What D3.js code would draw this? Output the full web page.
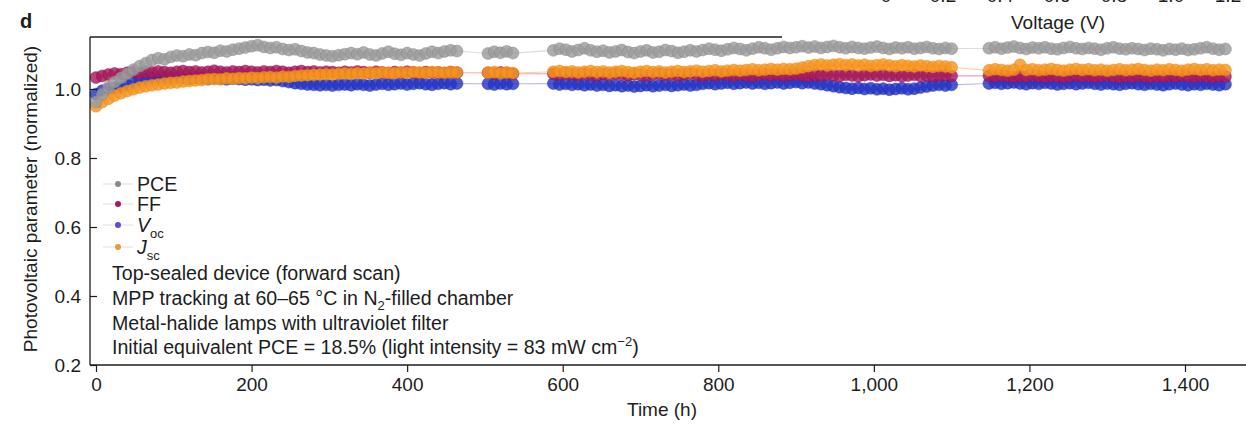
<!DOCTYPE html>
<html>
<head>
<meta charset="utf-8">
<script src="https://cdn.jsdelivr.net/npm/d3@7"></script>
<style>
  html, body { margin: 0; padding: 0; background: #fff; }
  svg { display: block; font-family: "Liberation Sans", Arial, Helvetica, sans-serif; }
</style>
</head>
<body>
<svg id="chart" width="1246" height="428"></svg>
<script>
// Sampling times (h) of the stability run; gaps are interruptions of tracking
const hours = [
  0,8,16,24,32,40,48,56,64,72,80,88,96,104,112,120,128,136,144,152,160,168,176,184,192,200,208,216,224,232,
  240,248,256,264,272,280,288,296,304,312,320,328,336,344,352,360,368,376,384,392,400,408,416,424,432,440,448,456,464,
  504,512,520,528,536,
  588,596,604,612,620,628,636,644,652,660,668,676,684,692,700,708,716,724,732,740,748,756,764,772,780,788,796,804,812,820,
  828,836,844,852,860,868,876,884,892,900,908,916,924,932,940,948,956,964,972,980,988,996,1004,1012,1020,1028,1036,1044,1052,1060,
  1068,1076,1084,1092,1100,
  1148,1156,1164,1172,1180,1188,1196,1204,1212,1220,1228,1236,1244,1252,1260,1268,1276,1284,1292,1300,
  1308,1316,1324,1332,1340,1348,1356,1364,1372,1380,1388,1396,1404,1412,1420,1428,1436,1444,1452
];

// Normalized photovoltaic parameters
const pce = [
  0.962,0.985,1.005,1.020,1.032,1.044,1.056,1.066,1.075,1.084,
  1.089,1.086,1.093,1.097,1.095,1.100,1.098,1.104,1.107,1.105,
  1.111,1.109,1.114,1.117,1.120,1.124,1.127,1.122,1.119,1.121,
  1.116,1.113,1.115,1.110,1.106,1.104,1.100,1.097,1.095,1.098,
  1.101,1.104,1.101,1.106,1.100,1.097,1.103,1.108,1.102,1.099,
  1.104,1.100,1.097,1.103,1.108,1.104,1.109,1.112,1.110,
  1.103,1.108,1.105,1.109,1.104,
  1.112,1.117,1.114,1.109,1.113,1.118,1.112,1.108,1.111,1.106,
  1.109,1.113,1.107,1.104,1.109,1.112,1.106,1.108,1.113,1.110,
  1.105,1.108,1.112,1.109,1.113,1.117,1.114,1.111,1.115,1.119,
  1.116,1.112,1.117,1.121,1.118,1.114,1.118,1.122,1.119,1.121,
  1.124,1.120,1.123,1.119,1.122,1.125,1.121,1.118,1.122,1.119,
  1.117,1.120,1.123,1.119,1.116,1.120,1.118,1.121,1.117,1.119,
  1.122,1.118,1.116,1.119,1.117,
  1.118,1.121,1.117,1.120,1.123,1.119,1.116,1.120,1.118,1.121,
  1.117,1.115,1.119,1.122,1.118,1.116,1.119,1.117,1.114,1.118,
  1.121,1.117,1.115,1.118,1.116,1.113,1.117,1.115,1.112,1.116,
  1.114,1.117,1.113,1.115,1.118,1.121,1.117,1.114,1.116
];

const ff = [
  1.033,1.038,1.042,1.045,1.043,1.047,1.049,1.046,1.050,1.048,
  1.051,1.049,1.047,1.050,1.052,1.049,1.051,1.048,1.050,1.053,
  1.050,1.048,1.051,1.049,1.052,1.050,1.048,1.051,1.049,1.052,
  1.050,1.047,1.050,1.052,1.049,1.051,1.048,1.050,1.049,1.047,
  1.050,1.048,1.051,1.049,1.047,1.050,1.048,1.046,1.049,1.047,
  1.050,1.048,1.046,1.049,1.047,1.048,1.046,1.049,1.047,
  1.047,1.045,1.048,1.046,1.044,
  1.044,1.042,1.045,1.043,1.041,1.044,1.042,1.040,1.043,1.041,
  1.044,1.042,1.040,1.043,1.041,1.039,1.042,1.044,1.041,1.043,
  1.040,1.042,1.044,1.041,1.039,1.042,1.040,1.043,1.041,1.039,
  1.042,1.040,1.038,1.041,1.043,1.040,1.042,1.039,1.041,1.043,
  1.040,1.038,1.041,1.039,1.042,1.040,1.038,1.041,1.039,1.037,
  1.040,1.042,1.039,1.041,1.038,1.040,1.037,1.039,1.041,1.038,
  1.040,1.037,1.039,1.041,1.038,
  1.038,1.036,1.039,1.037,1.035,1.038,1.036,1.039,1.037,1.035,
  1.038,1.036,1.034,1.037,1.039,1.036,1.038,1.035,1.037,1.039,
  1.036,1.034,1.037,1.035,1.038,1.036,1.034,1.037,1.035,1.038,
  1.036,1.039,1.037,1.035,1.038,1.036,1.034,1.037,1.036
];

const voc = [
  0.985,0.995,1.000,1.003,1.006,1.012,1.018,1.024,1.029,1.031,
  1.030,1.032,1.031,1.033,1.032,1.030,1.032,1.031,1.029,1.031,
  1.030,1.028,1.030,1.029,1.027,1.028,1.026,1.027,1.025,1.026,
  1.023,1.020,1.017,1.015,1.013,1.012,1.011,1.012,1.010,1.012,
  1.013,1.011,1.014,1.012,1.010,1.013,1.015,1.012,1.014,1.016,
  1.013,1.015,1.017,1.014,1.012,1.015,1.017,1.014,1.016,
  1.015,1.013,1.016,1.014,1.015,
  1.016,1.013,1.015,1.012,1.014,1.011,1.013,1.010,1.012,1.009,
  1.011,1.008,1.010,1.007,1.009,1.011,1.008,1.010,1.012,1.009,
  1.011,1.013,1.010,1.012,1.015,1.017,1.014,1.016,1.018,1.015,
  1.017,1.019,1.016,1.018,1.015,1.017,1.019,1.016,1.018,1.020,
  1.017,1.019,1.016,1.014,1.011,1.008,1.005,1.003,1.001,1.003,
  1.000,1.002,0.999,1.001,0.998,1.000,1.002,0.999,1.001,1.004,
  1.007,1.010,1.012,1.010,1.012,
  1.016,1.018,1.015,1.017,1.019,1.016,1.014,1.017,1.015,1.018,
  1.016,1.013,1.015,1.017,1.014,1.016,1.018,1.015,1.013,1.016,
  1.014,1.012,1.015,1.017,1.014,1.012,1.015,1.013,1.011,1.014,
  1.016,1.013,1.011,1.014,1.012,1.015,1.013,1.011,1.014
];

const jsc = [
  0.950,0.962,0.972,0.981,0.988,0.994,0.999,1.004,1.008,1.011,
  1.013,1.016,1.018,1.019,1.022,1.023,1.025,1.026,1.028,1.029,
  1.028,1.031,1.030,1.032,1.031,1.033,1.032,1.034,1.035,1.033,
  1.036,1.035,1.038,1.039,1.040,1.041,1.042,1.043,1.042,1.044,
  1.045,1.044,1.046,1.045,1.047,1.046,1.048,1.047,1.046,1.048,
  1.047,1.049,1.048,1.047,1.049,1.048,1.047,1.049,1.048,
  1.047,1.049,1.046,1.048,1.046,
  1.050,1.052,1.049,1.051,1.048,1.050,1.052,1.049,1.051,1.048,
  1.050,1.052,1.049,1.047,1.050,1.052,1.049,1.051,1.048,1.050,
  1.052,1.049,1.051,1.053,1.050,1.052,1.054,1.051,1.053,1.055,
  1.053,1.055,1.057,1.054,1.056,1.058,1.056,1.058,1.057,1.059,
  1.062,1.066,1.069,1.071,1.068,1.070,1.072,1.069,1.071,1.068,
  1.070,1.067,1.069,1.071,1.068,1.066,1.069,1.067,1.065,1.068,
  1.066,1.064,1.067,1.065,1.063,
  1.054,1.057,1.055,1.053,1.056,1.070,1.055,1.057,1.054,1.056,
  1.058,1.055,1.053,1.056,1.058,1.055,1.057,1.054,1.056,1.053,
  1.055,1.057,1.054,1.056,1.058,1.055,1.053,1.056,1.054,1.057,
  1.055,1.053,1.056,1.058,1.055,1.057,1.054,1.056,1.055
];

const timeTicks = [0, 200, 400, 600, 800, 1000, 1200, 1400];
const paramTicks = [0.2, 0.4, 0.6, 0.8, 1.0];
const voltageTicks = [0, 0.2, 0.4, 0.6, 0.8, 1.0, 1.2];

// Series drawn bottom to top
const series = [
  { key: "Voc", values: voc, fill: "#2436c8", rim: "#14209a", line: "#b9bdea" },
  { key: "FF",  values: ff,  fill: "#a8195e", rim: "#7c0f44", line: "#e7a3bd" },
  { key: "Jsc", values: jsc, fill: "#f7961f", rim: "#e07c10", line: "#fbd3a3" },
  { key: "PCE", values: pce, fill: "#9c9c9c", rim: "#7d7d7d", line: "#dcdcdc" }
];

const svg = d3.select("#chart");
const ink = "#1d1d1d";

const x = d3.scaleLinear().domain([0, 1400]).range([96, 1185]);
const y = d3.scaleLinear().domain([0.2, 1.0]).range([365, 89]);
const plotLeft = 90, plotTop = 37, plotBottom = 365, plotRight = 1246, frameTopEnd = 782;

// Fragment of the neighbouring panel's voltage axis at the top edge
const xv = d3.scaleLinear().domain([0, 1.2]).range([886, 1228]);
svg.append("g").selectAll("text").data(voltageTicks).join("text")
  .attr("x", d => xv(d)).attr("y", 2)
  .attr("text-anchor", "middle").attr("font-size", 19).attr("fill", ink)
  .text(d => d === 0 ? "0" : d3.format(".1f")(d));
svg.append("text").attr("x", 1058).attr("y", 29).attr("text-anchor", "middle")
  .attr("font-size", 19).attr("fill", ink).text("Voltage (V)");

// Panel letter
svg.append("text").attr("x", 20).attr("y", 28).attr("font-size", 20)
  .attr("font-weight", "bold").attr("fill", ink).text("d");

// Connecting lines
const line = d3.line().x((d, i) => x(hours[i])).y(d => y(d));
const gLines = svg.append("g");
series.forEach(s => {
  gLines.append("path").attr("d", line(s.values))
    .attr("fill", "none").attr("stroke", s.line).attr("stroke-width", 1.1);
});

// Markers
series.forEach(s => {
  svg.append("g").selectAll("circle").data(s.values).join("circle")
    .attr("cx", (d, i) => x(hours[i]))
    .attr("cy", d => y(d))
    .attr("r", 6)
    .attr("fill", s.fill).attr("fill-opacity", 0.82)
    .attr("stroke", s.rim).attr("stroke-opacity", 0.5).attr("stroke-width", 0.8);
});

// Frame and axes
svg.append("line").attr("x1", plotLeft).attr("x2", plotLeft).attr("y1", plotTop).attr("y2", plotBottom)
  .attr("stroke", ink).attr("stroke-width", 1.3);
svg.append("line").attr("x1", plotLeft).attr("x2", frameTopEnd).attr("y1", plotTop).attr("y2", plotTop)
  .attr("stroke", ink).attr("stroke-width", 1.3);
svg.append("line").attr("x1", plotLeft).attr("x2", plotRight).attr("y1", plotBottom).attr("y2", plotBottom)
  .attr("stroke", ink).attr("stroke-width", 1.3);

const yAxis = svg.append("g").attr("transform", `translate(${plotLeft},0)`)
  .call(d3.axisLeft(y).tickValues(paramTicks).tickSize(-7).tickPadding(9).tickFormat(d3.format(".1f")));
const xAxis = svg.append("g").attr("transform", `translate(0,${plotBottom})`)
  .call(d3.axisBottom(x).tickValues(timeTicks).tickSize(7).tickPadding(6).tickFormat(d3.format(",")));
[yAxis, xAxis].forEach(g => {
  g.select(".domain").remove();
  g.selectAll(".tick line").attr("stroke", ink).attr("stroke-width", 1.2);
  g.selectAll(".tick text").attr("fill", ink).attr("font-size", 19)
    .attr("font-family", "'Liberation Sans', Arial, sans-serif");
});

// Axis titles
svg.append("text").attr("x", 662).attr("y", 416).attr("text-anchor", "middle")
  .attr("font-size", 19).attr("fill", ink).text("Time (h)");
svg.append("text").attr("transform", "translate(37,199) rotate(-90)").attr("text-anchor", "middle")
  .attr("font-size", 19).attr("fill", ink).text("Photovoltaic parameter (normalized)");

// Legend
const legendItems = [
  { name: "PCE", sub: null, italic: false, color: "#8a8a8a", cy: 184 },
  { name: "FF",  sub: null, italic: false, color: "#a8195e", cy: 204 },
  { name: "V",   sub: "oc", italic: true,  color: "#5b4fd6", cy: 225 },
  { name: "J",   sub: "sc", italic: true,  color: "#e89a3c", cy: 247 }
];
const leg = svg.append("g");
legendItems.forEach(it => {
  leg.append("line").attr("x1", 103).attr("x2", 133).attr("y1", it.cy).attr("y2", it.cy)
    .attr("stroke", "#dedede").attr("stroke-width", 1);
  leg.append("circle").attr("cx", 118).attr("cy", it.cy).attr("r", 3)
    .attr("fill", it.color);
  const t = leg.append("text").attr("x", 137).attr("y", it.cy + 7)
    .attr("font-size", 19.6).attr("fill", ink);
  t.append("tspan").attr("font-style", it.italic ? "italic" : "normal").text(it.name);
  if (it.sub) t.append("tspan").attr("font-size", 13).attr("dy", 6).text(it.sub);
});

// Experimental conditions
const notes = svg.append("g").attr("font-size", 19.6).attr("fill", ink);
notes.append("text").attr("x", 112).attr("y", 280).text("Top-sealed device (forward scan)");
const n2 = notes.append("text").attr("x", 112).attr("y", 305);
n2.append("tspan").text("MPP tracking at 60\u201365 \u00B0C in N");
n2.append("tspan").attr("font-size", 13).attr("dy", 5).text("2");
n2.append("tspan").attr("dy", -5).text("-filled chamber");
notes.append("text").attr("x", 112).attr("y", 330).text("Metal-halide lamps with ultraviolet filter");
const n4 = notes.append("text").attr("x", 112).attr("y", 354);
n4.append("tspan").text("Initial equivalent PCE = 18.5% (light intensity = 83 mW cm");
n4.append("tspan").attr("font-size", 13).attr("dy", -8).text("\u22122");
n4.append("tspan").attr("dy", 8).text(")");
</script>
</body>
</html>
